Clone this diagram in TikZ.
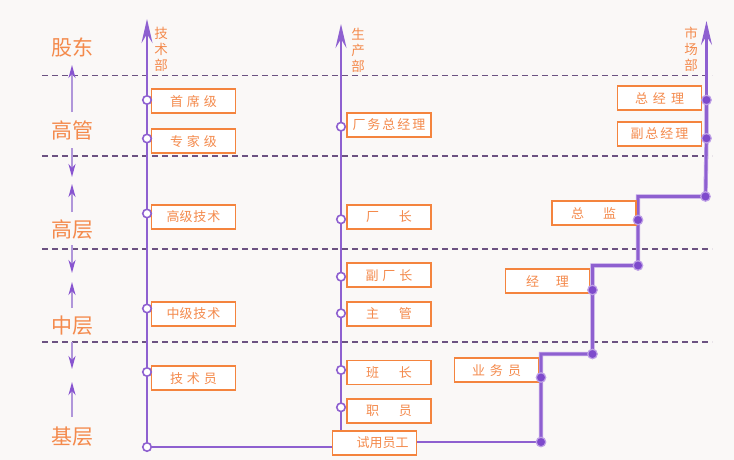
\documentclass[tikz,border=0pt]{standalone}
\usepackage{fontspec}
\setmainfont{Noto Sans CJK SC}
\usetikzlibrary{arrows.meta,backgrounds}
\definecolor{bgc}{RGB}{250,248,247}
\definecolor{boxor}{RGB}{244,132,62}
\definecolor{txtor}{RGB}{244,138,76}
\definecolor{lineviolet}{RGB}{142,96,208}
\definecolor{dotviolet}{RGB}{126,74,204}
\definecolor{halo}{RGB}{190,160,230}
\definecolor{sepc}{RGB}{108,82,130}
\definecolor{thinv}{RGB}{176,150,218}
\definecolor{headv}{RGB}{136,84,208}
\newcommand{\sk}[1]{\hspace{#1pt}}
\tikzset{
  box/.style={draw=boxor, line width=1.9pt, fill=white, minimum width=84pt, minimum height=24pt,
    inner sep=0pt, text=txtor, font=\fontsize{13}{13}\selectfont},
  hollow/.style={circle, draw=lineviolet, fill=white, line width=1.6pt, inner sep=0pt, minimum size=8.5pt},
  fdot/.style={circle, fill=dotviolet, draw=halo, line width=1.2pt, inner sep=0pt, minimum size=9.5pt},
  route/.style={draw=lineviolet, line width=2.6pt},
  colarrow/.style={route, -{Stealth[length=24pt,width=11pt,inset=9pt]}},
  levellabel/.style={text=txtor, font=\fontsize{21}{21}\selectfont, inner sep=0pt},
  dept/.style={text=txtor, font=\fontsize{13.5}{16}\selectfont, align=center, inner sep=0pt},
  sepline/.style={draw=sepc, line width=1.8pt, dash pattern=on 6pt off 4pt},
  lvarrow/.style={draw=thinv, line width=2pt, -{Stealth[length=13pt,width=7pt,inset=4pt,color=headv,fill=headv]}}
}
\begin{document}
\begin{tikzpicture}[x=1pt,y=-1pt]
\useasboundingbox (0,0) rectangle (734,460);
% level labels
\node[levellabel] (gudong) at (72,47) {股东};
\node[levellabel] (gaoguan) at (72,130) {高管};
\node[levellabel] (gaoceng) at (72,230) {高层};
\node[levellabel] (zhongceng) at (72,326) {中层};
\node[levellabel] (jiceng) at (72,437) {基层};
% department labels
\node[dept] (jsb) at (161,49) {技\\术\\部};
\node[dept] (scb) at (358,50) {生\\产\\部};
\node[dept] (ycb) at (691,49) {市\\场\\部};
% boxes
\node[box] (shouxi) at (193.5,101.3) {首\sk{4}席\sk{4}级};
\node[box] (zhuanjia) at (193.5,141.3) {专\sk{4}家\sk{4}级};
\node[box] (gaoji) at (193.5,217) {高级\sk{1}技\sk{1}术};
\node[box] (zhongji) at (193.5,314) {中级\sk{1}技\sk{1}术};
\node[box] (jishuyuan) at (193.5,378.3) {技\sk{4}术\sk{4}员};
\node[box] (shiyong) at (374.5,443) {\hspace{16pt}试用员工};
\node[box] (changwu) at (389,124.7) {厂\sk{2}务\sk{2}总\sk{2}经\sk{2}理};
\node[box] (changzhang) at (389,217) {厂\sk{20}长};
\node[box] (fuchang) at (389,275.3) {副\sk{4}厂\sk{4}长};
\node[box] (zhuguan) at (389,313.7) {主\sk{20}管};
\node[box] (banzhang) at (389,372.5) {班\sk{20}长};
\node[box] (zhiyuan) at (389,410.8) {职\sk{20}员};
\node[box] (yewu) at (496.5,370.3) {业\sk{5}务\sk{5}员};
\node[box] (jingli) at (547.5,281.2) {经\sk{17}理};
\node[box] (zongjian) at (593.7,213.2) {总\sk{19}监};
\node[box] (zongjingli) at (659.5,98.4) {总\sk{5}经\sk{5}理};
\node[box] (fuzong) at (659.5,134) {副\sk{2}总\sk{2}经\sk{2}理};
% technical column
\node[hollow] (t0) at (147,447) {};
\node[hollow] (t1) at (147,100) {};
\node[hollow] (t2) at (147,138.5) {};
\node[hollow] (t3) at (147,213.5) {};
\node[hollow] (t4) at (147,308.5) {};
\node[hollow] (t5) at (147,372) {};
\coordinate (ttop) at (147,19);
% production column
\node[hollow] (p1) at (341,126.7) {};
\node[hollow] (p2) at (341,219.3) {};
\node[hollow] (p3) at (341,276.7) {};
\node[hollow] (p4) at (341,313.3) {};
\node[hollow] (p5) at (341,370) {};
\node[hollow] (p6) at (341,407.3) {};
\coordinate (ptop) at (341,24);
% market staircase
\node[fdot] (m1) at (541,442) {};
\node[fdot] (m2) at (541,377.5) {};
\node[fdot] (m3) at (592.5,354) {};
\node[fdot] (m4) at (592.5,290) {};
\node[fdot] (m5) at (638,265.5) {};
\node[fdot] (m6) at (638,220) {};
\node[fdot] (m7) at (705.5,196.5) {};
\node[fdot] (m8) at (706.5,138.3) {};
\node[fdot] (m9) at (706.5,100) {};
\coordinate (mtop) at (706.5,21);
\begin{scope}[on background layer]
\fill[bgc] (0,0) rectangle (734,460);
% separators
\foreach \yy in {75.5,156,249,342}
  \draw[sepline] (42,\yy) -- (712,\yy);
% level arrows
\draw[lvarrow] (72,112) -- (72,65);
\draw[lvarrow] (72,148) -- (72,177);
\draw[lvarrow] (72,212) -- (72,184);
\draw[lvarrow] (72,245) -- (72,273);
\draw[lvarrow] (72,308) -- (72,282);
\draw[lvarrow] (72,342) -- (72,369);
\draw[lvarrow] (72,417) -- (72,382);
% columns
\draw[colarrow] (t0.center) -- (ttop);
\draw[colarrow] (shiyong.north -| p1) -- (ptop);
\draw[route] (t0.center) -- (t0.center -| shiyong.west);
\draw[route] (shiyong.east |- m1) -- (m1.center);
\draw[route, preaction={draw=halo, line width=4.2pt}] (m1.center) -- (m2.center) |- (m3.center) -- (m4.center) |- (m5.center) -- (m6.center) |- (m7.center) -- (m8.center) -- (m9.center);
\draw[colarrow] (m9.center) -- (mtop);
\end{scope}
\end{tikzpicture}
\end{document}
